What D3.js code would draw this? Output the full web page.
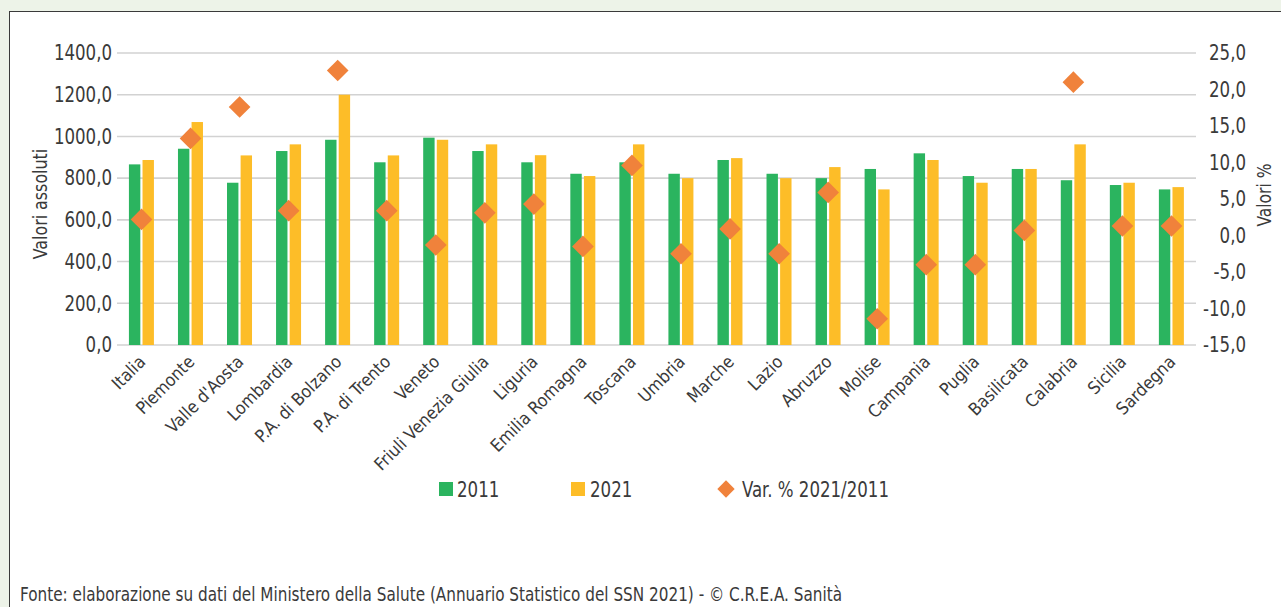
<!DOCTYPE html>
<html><head><meta charset="utf-8">
<script src="https://cdn.jsdelivr.net/npm/d3@7"></script>
<style>
html,body{margin:0;padding:0;background:#edf3e8;}
svg{display:block;}
text{font-family:"DejaVu Sans Condensed","Liberation Sans",sans-serif;fill:#3a3a3a;}
</style></head>
<body>
<svg id="c" width="1281" height="607"></svg>
<script>
const categories = ["Italia","Piemonte","Valle d'Aosta","Lombardia","P.A. di Bolzano","P.A. di Trento","Veneto","Friuli Venezia Giulia","Liguria","Emilia Romagna","Toscana","Umbria","Marche","Lazio","Abruzzo","Molise","Campania","Puglia","Basilicata","Calabria","Sicilia","Sardegna"];
const values2011 = [866, 941, 778, 930, 984, 876, 994, 930, 876, 821, 876, 821, 887, 821, 800, 844, 919, 810, 844, 790, 767, 746];
const values2021 = [887, 1069, 909, 962, 1200, 909, 984, 962, 910, 810, 962, 800, 896, 800, 853, 746, 887, 778, 844, 962, 778, 757];
const varPct = [2.2, 13.3, 17.6, 3.4, 22.6, 3.4, -1.3, 3.1, 4.3, -1.5, 9.6, -2.5, 0.9, -2.5, 5.9, -11.4, -4.0, -4.0, 0.7, 21.0, 1.3, 1.3];
const leftTicks = [0, 200, 400, 600, 800, 1000, 1200, 1400];
const rightTicks = [-15, -10, -5, 0, 5, 10, 15, 20, 25];
const seriesNames = ["2011", "2021", "Var. % 2021/2011"];
const leftTitle = "Valori assoluti";
const rightTitle = "Valori %";
const source = "Fonte: elaborazione su dati del Ministero della Salute (Annuario Statistico del SSN 2021) - © C.R.E.A. Sanità";

const C_GREEN = "#2bb45f", C_YELLOW = "#fdbd28", C_ORANGE = "#f0823b";
const SX = 0.88; // horizontal condensing of text
const svg = d3.select("#c");
const W = 1281, H = 607;
const m = {l:117, r:1196, t:53, b:345};

// frame
svg.append("rect").attr("x",9.5).attr("y",11.5).attr("width",W).attr("height",H)
  .attr("fill","#fff").attr("stroke","#3a3a3a").attr("stroke-width",1);

const x = d3.scaleBand().domain(categories).range([m.l, m.r]).padding(0);
const yL = d3.scaleLinear().domain([0,1400]).range([m.b, m.t]);
const yR = d3.scaleLinear().domain([-15,25]).range([m.b, m.t]);
const fmt = v => d3.format(".1f")(v).replace(".", ",").replace("\u2212","-");

// gridlines
svg.append("g").selectAll("line").data(leftTicks).join("line")
  .attr("x1", m.l).attr("x2", m.r).attr("y1", d=>yL(d)).attr("y2", d=>yL(d))
  .attr("stroke","#d2d2d2").attr("stroke-width",1.6);

// left axis
const axL = svg.append("g").attr("transform",`translate(${m.l-5},0)`)
  .call(d3.axisLeft(yL).tickValues(leftTicks).tickSize(0).tickPadding(0).tickFormat(fmt));
axL.select(".domain").remove();
axL.selectAll("text").attr("font-size",21).attr("font-family",null).style("fill","#3a3a3a")
  .attr("transform",`scale(${SX},1)`);

// right axis
const axR = svg.append("g").attr("transform",`translate(1246,0)`)
  .call(d3.axisLeft(yR).tickValues(rightTicks).tickSize(0).tickPadding(0).tickFormat(fmt));
axR.select(".domain").remove();
axR.selectAll("text").attr("font-size",21).attr("font-family",null).style("fill","#3a3a3a")
  .attr("transform",`scale(${SX},1)`);

// bars
const bw = 11.4;
const g = svg.append("g");
g.selectAll("rect.b11").data(categories).join("rect").attr("class","b11")
  .attr("x", (d)=>x(d)+x.bandwidth()/2-bw-1.2).attr("width", bw)
  .attr("y", (d,i)=>yL(values2011[i])).attr("height",(d,i)=>yL(0)-yL(values2011[i]))
  .attr("fill", C_GREEN);
g.selectAll("rect.b21").data(categories).join("rect").attr("class","b21")
  .attr("x", (d)=>x(d)+x.bandwidth()/2+1.0).attr("width", bw)
  .attr("y", (d,i)=>yL(values2021[i])).attr("height",(d,i)=>yL(0)-yL(values2021[i]))
  .attr("fill", C_YELLOW);

// diamonds
const diamond = d3.symbol().type(d3.symbolSquare).size(235);
g.selectAll("path.dm").data(categories).join("path").attr("class","dm")
  .attr("d", diamond)
  .attr("transform",(d,i)=>`translate(${x(d)+x.bandwidth()/2},${yR(varPct[i])}) rotate(45)`)
  .attr("fill", C_ORANGE);

// category labels
svg.append("g").selectAll("text").data(categories).join("text")
  .attr("transform", d=>`translate(${x(d)+x.bandwidth()/2+5},${m.b+18}) rotate(-45)`)
  .attr("text-anchor","end").attr("font-size",17.5).text(d=>d);

// axis titles
svg.append("text").attr("transform",`translate(47,204) rotate(-90) scale(0.93,1)`)
  .attr("text-anchor","middle").attr("font-size",19).text(leftTitle);
svg.append("text").attr("transform",`translate(1271,195) rotate(-90) scale(0.91,1)`)
  .attr("text-anchor","middle").attr("font-size",19).text(rightTitle);

// legend
const lg = svg.append("g");
lg.append("rect").attr("x",439).attr("y",482).attr("width",14).attr("height",14).attr("fill",C_GREEN);
lg.append("text").attr("transform",`translate(457,497) scale(${SX},1)`).attr("font-size",21).text(seriesNames[0]);
lg.append("rect").attr("x",571).attr("y",482).attr("width",14).attr("height",14).attr("fill",C_YELLOW);
lg.append("text").attr("transform",`translate(590,497) scale(${SX},1)`).attr("font-size",21).text(seriesNames[1]);
lg.append("path").attr("d", d3.symbol().type(d3.symbolSquare).size(150))
  .attr("transform","translate(726,489) rotate(45)").attr("fill",C_ORANGE);
lg.append("text").attr("transform",`translate(742,497) scale(${SX},1)`).attr("font-size",21).text(seriesNames[2]);

// source
svg.append("text").attr("x",20).attr("y",601).attr("font-size",20)
  .attr("textLength",822).attr("lengthAdjust","spacingAndGlyphs").text(source);
</script>
</body></html>
